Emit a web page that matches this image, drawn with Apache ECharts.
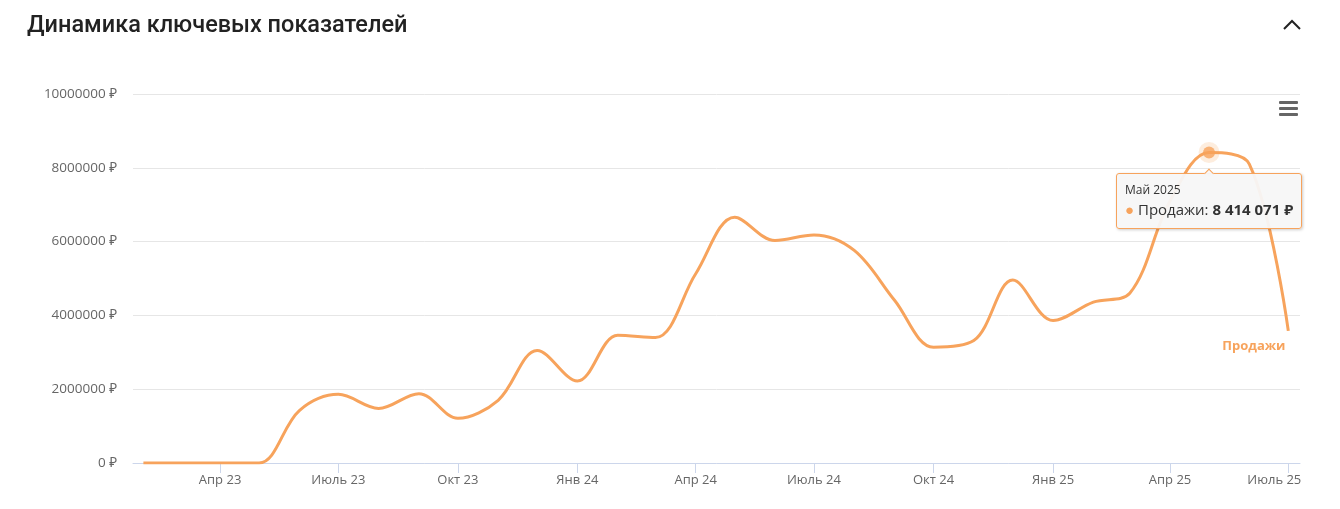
<!DOCTYPE html>
<html>
<head>
<meta charset="utf-8">
<script src="https://cdn.jsdelivr.net/npm/echarts@6/dist/echarts.min.js"></script>
<style>
  html, body { margin: 0; padding: 0; background: #fff; }
  #chart { width: 1340px; height: 509px; }
</style>
</head>
<body>
<div id="chart"></div>
<script>
// monthly sales, first day of each month
const months = [
  "2023-02-01", "2023-03-01", "2023-04-01", "2023-05-01", "2023-06-01", "2023-07-01",
  "2023-08-01", "2023-09-01", "2023-10-01", "2023-11-01", "2023-12-01", "2024-01-01",
  "2024-02-01", "2024-03-01", "2024-04-01", "2024-05-01", "2024-06-01", "2024-07-01",
  "2024-08-01", "2024-09-01", "2024-10-01", "2024-11-01", "2024-12-01", "2025-01-01",
  "2025-02-01", "2025-03-01", "2025-04-01", "2025-05-01", "2025-06-01", "2025-07-01",
];
const sales = [
  0, 0, 0, 0, 1420000, 1860000,
  1480000, 1880000, 1210000, 1700000, 3050000, 2220000,
  3460000, 3400000, 5130000, 6660000, 6030000, 6180000,
  5760000, 4410000, 3140000, 3320000, 4960000, 3860000,
  4360000, 4600000, 7100000, 8414071, 8100000, 3580000,
];
const tickDates = [
  "2023-04-01", "2023-07-01", "2023-10-01", "2024-01-01", "2024-04-01",
  "2024-07-01", "2024-10-01", "2025-01-01", "2025-04-01", "2025-07-01",
];
const tickLabels = [
  "Апр 23", "Июль 23", "Окт 23", "Янв 24", "Апр 24",
  "Июль 24", "Окт 24", "Янв 25", "Апр 25", "Июль 25",
];
const monthNames = ["Янв", "Фев", "Мар", "Апр", "Май", "Июнь",
  "Июль", "Авг", "Сен", "Окт", "Ноя", "Дек"];
const seriesName = "Продажи";
const hlIndex = 27; // May 2025

const orange = "#f7a35c";
const t = (d) => +new Date(d);
const tickTimes = tickDates.map(t);

function fmtNum(v) {
  return String(v).replace(/\B(?=(\d{3})+(?!\d))/g, " ");
}

var chartDom = document.getElementById("chart");
var myChart = echarts.init(chartDom);
var option;

option = {
  animation: false,
  textStyle: { fontFamily: "'Open Sans', 'Noto Sans', sans-serif" },
  grid: { left: 133, right: 40, top: 94, bottom: 46 },
  tooltip: {
    trigger: "item",
    triggerOn: "none",
    alwaysShowContent: true,
    position: "bottom",
    backgroundColor: "rgba(247,247,247,0.95)",
    borderColor: orange,
    borderWidth: 1,
    borderRadius: 3,
    padding: [7, 8, 8, 8],
    extraCssText: "box-shadow: 1px 1px 3px rgba(0,0,0,0.2);",
    formatter: (p) => {
      const d = new Date(p.value[0]);
      const title = monthNames[d.getUTCMonth()] + " " + d.getUTCFullYear();
      return (
        '<div style="font-family:\'Open Sans\',\'Noto Sans\',sans-serif;font-size:12px;color:#333;line-height:18px">' + title + "</div>" +
        '<div style="font-family:\'Open Sans\',\'Noto Sans\',sans-serif;font-size:15px;color:#333;line-height:21px">' +
        '<span style="color:' + orange + ';font-size:15px">●</span> ' +
        p.seriesName + ": <b>" + fmtNum(p.value[1]) + " ₽</b></div>"
      );
    },
  },
  xAxis: {
    type: "value",
    min: t("2023-01-24"),
    max: t("2025-07-10"),
    axisLine: { lineStyle: { color: "#ccd6eb", width: 1 } },
    axisTick: { show: true, length: 10, lineStyle: { color: "#ccd6eb" }, customValues: tickTimes },
    axisLabel: {
      customValues: tickTimes,
      color: "#666",
      fontSize: 13,
      margin: 11,
      formatter: (v) => {
        const i = tickTimes.indexOf(v);
        if (i < 0) return "";
        return i === tickLabels.length - 1 ? "{last|" + tickLabels[i] + "}" : tickLabels[i];
      },
      rich: {
        last: { color: "#666", fontSize: 13, padding: [0, 28, 0, 0] },
      },
    },
    splitLine: { show: false },
  },
  yAxis: {
    type: "value",
    min: 0,
    max: 10000000,
    interval: 2000000,
    axisLine: { show: false },
    axisTick: { show: false },
    axisLabel: { color: "#666", fontSize: 13.5, margin: 16, formatter: (v) => v + " ₽" },
    splitLine: { lineStyle: { color: "#e6e6e6" } },
  },
  series: [
    {
      name: seriesName,
      type: "line",
      smooth: 0.35,
      showSymbol: false,
      lineStyle: { color: orange, width: 3 },
      itemStyle: { color: orange },
      data: months.map((m, i) => [t(m), sales[i]]),
      endLabel: {
        show: true,
        formatter: "{a}",
        color: orange,
        fontSize: 13,
        fontWeight: "bold",
        offset: [-74, 15],
      },
      tooltip: { show: false },
      z: 2,
    },
    {
      name: seriesName,
      type: "scatter",
      symbolSize: 12,
      itemStyle: { color: orange, borderColor: "rgba(247,163,92,0.25)", borderWidth: 9 },
      data: [[t(months[hlIndex]), sales[hlIndex]]],
      z: 3,
    },
  ],
  graphic: [
    {
      type: "text",
      left: 27,
      top: 14,
      style: {
        text: "Динамика ключевых показателей",
        fontSize: 23.5,
        fontWeight: 500,
        fill: "#222",
        fontFamily: "Roboto, sans-serif",
      },
    },
    {
      type: "polyline",
      shape: { points: [[1284, 29], [1292, 21], [1300, 29]] },
      style: { stroke: "#222", lineWidth: 2, fill: null },
    },
    { type: "rect", shape: { x: 1279, y: 101, width: 19, height: 3, r: 1 }, style: { fill: "#666" } },
    { type: "rect", shape: { x: 1279, y: 107, width: 19, height: 3, r: 1 }, style: { fill: "#666" } },
    { type: "rect", shape: { x: 1279, y: 113, width: 19, height: 3, r: 1 }, style: { fill: "#666" } },
  ],
};

option && myChart.setOption(option);
myChart.dispatchAction({ type: "showTip", seriesIndex: 1, dataIndex: 0 });
</script>
</body>
</html>
